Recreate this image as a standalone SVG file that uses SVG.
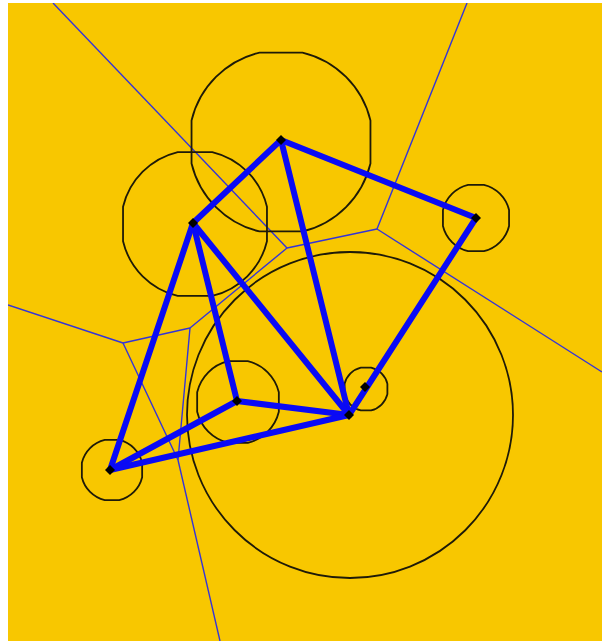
<svg xmlns="http://www.w3.org/2000/svg" width="602" height="641" viewBox="0 0 602 641">
<style>
.vor{fill:none;stroke:#3434d8;stroke-width:1.4}
.ring{fill:none;stroke:#1e1a08;stroke-width:1.8;stroke-linejoin:round}
.edge{stroke:#0a0af5;stroke-width:6;stroke-linecap:round}
.pt{fill:#000}
</style>
<defs><clipPath id="clip"><rect x="8" y="3" width="594" height="638"/></clipPath></defs>
<rect width="602" height="641" fill="#ffffff"/>
<rect x="8" y="3" width="594" height="638" fill="#f8c700"/>
<g id="voronoi" clip-path="url(#clip)">
<line class="vor" x1="53" y1="3" x2="287" y2="248"/>
<line class="vor" x1="287" y1="248" x2="377" y2="229"/>
<line class="vor" x1="377" y1="229" x2="467" y2="3"/>
<line class="vor" x1="377" y1="229" x2="602" y2="372"/>
<line class="vor" x1="287" y1="248" x2="190" y2="328"/>
<line class="vor" x1="190" y1="328" x2="123" y2="343"/>
<line class="vor" x1="123" y1="343" x2="8" y2="305"/>
<line class="vor" x1="123" y1="343" x2="178" y2="460"/>
<line class="vor" x1="190" y1="328" x2="178" y2="460"/>
<line class="vor" x1="178" y1="460" x2="220" y2="641"/>
</g>
<g id="circles">
<path id="circleA" class="ring" d="M370.46,120.53 L370.46,163.47 A92,92 0 0 1 302.47,231.46 L259.53,231.46 A92,92 0 0 1 191.54,163.47 L191.54,120.53 A92,92 0 0 1 259.53,52.54 L302.47,52.54 A92,92 0 0 1 370.46,120.53 Z"/>
<path id="circleB" class="ring" d="M266.96,206.73 L266.96,241.27 A74,74 0 0 1 212.27,295.96 L177.73,295.96 A74,74 0 0 1 123.04,241.27 L123.04,206.73 A74,74 0 0 1 177.73,152.04 L212.27,152.04 A74,74 0 0 1 266.96,206.73 Z"/>
<path id="circleC" class="ring" d="M509.06,210.06 L509.06,225.94 A34,34 0 0 1 483.94,251.06 L468.06,251.06 A34,34 0 0 1 442.94,225.94 L442.94,210.06 A34,34 0 0 1 468.06,184.94 L483.94,184.94 A34,34 0 0 1 509.06,210.06 Z"/>
<path id="circleD" class="ring" d="M278.84,392.2 L278.84,411.8 A42,42 0 0 1 247.8,442.84 L228.2,442.84 A42,42 0 0 1 197.16,411.8 L197.16,392.2 A42,42 0 0 1 228.2,361.16 L247.8,361.16 A42,42 0 0 1 278.84,392.2 Z"/>
<path id="circleF" class="ring" d="M142.14,462.76 L142.14,477.24 A31,31 0 0 1 119.24,500.14 L104.76,500.14 A31,31 0 0 1 81.86,477.24 L81.86,462.76 A31,31 0 0 1 104.76,439.86 L119.24,439.86 A31,31 0 0 1 142.14,462.76 Z"/>
<path id="circleG" class="ring" d="M387.39,383.87 L387.39,394.13 A22,22 0 0 1 371.13,410.39 L360.87,410.39 A22,22 0 0 1 344.61,394.13 L344.61,383.87 A22,22 0 0 1 360.87,367.61 L371.13,367.61 A22,22 0 0 1 387.39,383.87 Z"/>
<circle id="circleE" class="ring" cx="350" cy="415" r="163"/>
</g>
<g id="edges">
<line class="edge" x1="281" y1="140" x2="193" y2="223"/>
<line class="edge" x1="281" y1="140" x2="476" y2="218"/>
<line class="edge" x1="281" y1="140" x2="349" y2="415"/>
<line class="edge" x1="193" y1="223" x2="349" y2="415"/>
<line class="edge" x1="193" y1="223" x2="237" y2="401"/>
<line class="edge" x1="193" y1="223" x2="110" y2="470"/>
<line class="edge" x1="237" y1="401" x2="349" y2="415"/>
<line class="edge" x1="237" y1="401" x2="110" y2="470"/>
<line class="edge" x1="110" y1="470" x2="349" y2="415"/>
<line class="edge" x1="476" y1="218" x2="349" y2="415"/>
</g>
<g id="nodeA"><polygon class="pt" points="281,135 286,140 281,145 276,140"/></g>
<g id="nodeB"><polygon class="pt" points="193,218 198,223 193,228 188,223"/></g>
<g id="nodeC"><polygon class="pt" points="476,213 481,218 476,223 471,218"/></g>
<g id="nodeD"><polygon class="pt" points="237,396 242,401 237,406 232,401"/></g>
<g id="nodeE"><polygon class="pt" points="349,410 354,415 349,420 344,415"/></g>
<g id="nodeF"><polygon class="pt" points="110,465 115,470 110,475 105,470"/></g>
<g id="nodeG"><polygon class="pt" points="365,382 370,387 365,392 360,387"/></g>
</svg>
